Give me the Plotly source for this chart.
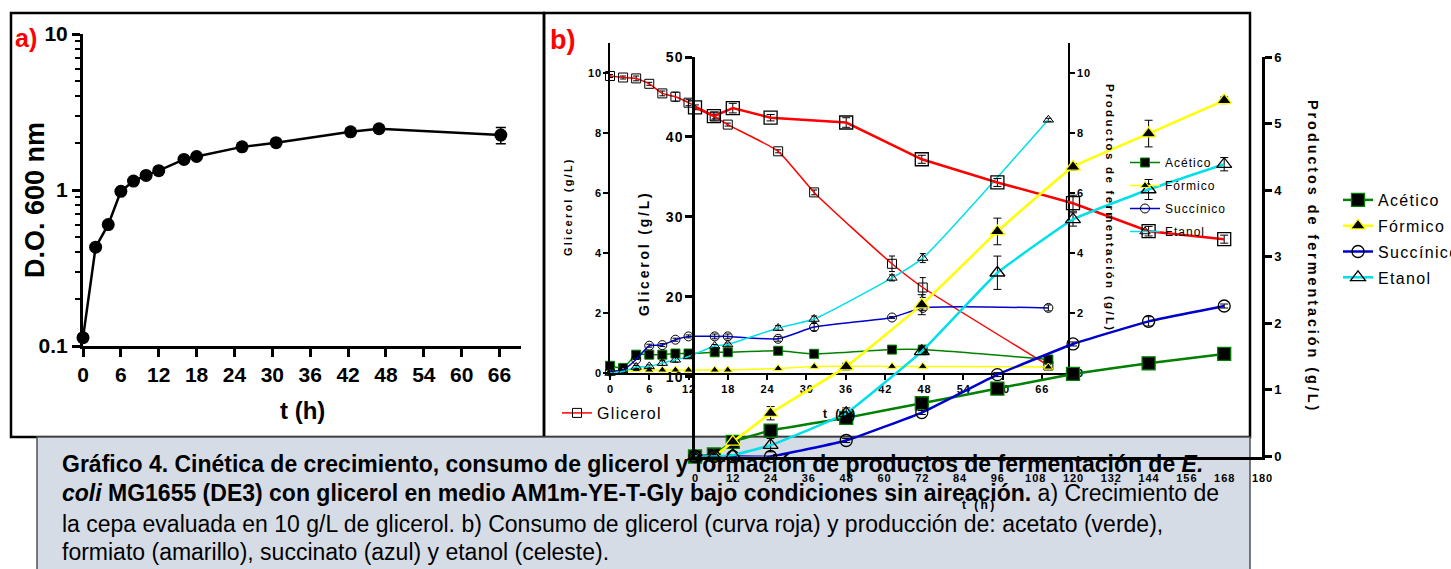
import plotly.graph_objects as go

# ---------------- data ----------------
# Panel a) growth (log scale)
t_growth = [0, 2, 4, 6, 8, 10, 12, 16, 18, 25.2, 30.6, 42.4, 46.9, 66.2]
od600 = [0.113, 0.43, 0.60, 0.98, 1.14, 1.24, 1.33, 1.57, 1.64, 1.89, 2.01, 2.36, 2.47, 2.25]
od600_err = [0, 0, 0, 0, 0, 0, 0, 0, 0, 0, 0, 0, 0, 0.27]
growth_ticks_x = [0, 6, 12, 18, 24, 30, 36, 42, 48, 54, 60, 66]
growth_ticks_y = [0.1, 1, 10]

# Panel b) small chart, 0-70 h
t_small = [0, 2, 4, 6, 8, 10, 12, 16, 18, 25.7, 31.2, 43.1, 47.8, 67]
glic_small = [9.9, 9.85, 9.82, 9.64, 9.32, 9.21, 9.01, 8.55, 8.28, 7.39, 6.02, 3.64, 2.85, 0.25]
glic_small_err = [0.05, 0.05, 0.08, 0.05, 0.08, 0.15, 0.1, 0.08, 0.05, 0.05, 0.08, 0.26, 0.33, 0.05]
acet_small = [0.24, 0.17, 0.61, 0.61, 0.61, 0.65, 0.65, 0.69, 0.69, 0.74, 0.64, 0.78, 0.78, 0.45]
form_small = [0.0, 0.03, 0.12, 0.1, 0.1, 0.1, 0.1, 0.1, 0.1, 0.15, 0.22, 0.22, 0.22, 0.2]
succ_small = [0.05, 0.1, 0.45, 0.91, 0.93, 1.11, 1.22, 1.22, 1.22, 1.14, 1.53, 1.85, 2.17, 2.17]
succ_small_err = [0, 0, 0, 0.05, 0.05, 0.05, 0.05, 0.08, 0.08, 0.08, 0.12, 0.03, 0.08, 0.1]
etoh_small = [0.0, 0.05, 0.2, 0.22, 0.33, 0.44, 0.55, 0.9, 0.95, 1.5, 1.8, 3.17, 3.83, 8.44]
etoh_small_err = [0, 0, 0.05, 0.05, 0.08, 0.08, 0.05, 0.05, 0.05, 0.08, 0.1, 0.1, 0.15, 0.05]
small_ticks_x = [0, 6, 12, 18, 24, 30, 36, 42, 48, 54, 60, 66]
small_ticks_y = [0, 2, 4, 6, 8, 10]

# Panel b) large chart, 0-180 h
t_large = [0, 6, 12, 24, 48, 72, 96, 120, 144, 168]
glic_large = [43.7, 42.6, 43.6, 42.4, 41.8, 37.2, 34.3, 31.7, 28.2, 27.2]
glic_large_err = [0.3, 0.5, 0.6, 0.4, 0.6, 0.5, 0.5, 1.0, 0.6, 0.5]
acet_large = [0, 0.03, 0.22, 0.39, 0.58, 0.80, 1.02, 1.24, 1.40, 1.54]
form_large = [0, 0.0, 0.22, 0.65, 1.35, 2.28, 3.38, 4.35, 4.85, 5.35]
form_large_err = [0, 0, 0, 0.1, 0.05, 0.15, 0.2, 0.05, 0.2, 0.05]
succ_large = [0, 0, 0, 0, 0.24, 0.66, 1.23, 1.69, 2.03, 2.26]
succ_large_err = [0, 0, 0, 0, 0.03, 0.03, 0.03, 0.03, 0.07, 0.03]
etoh_large = [0, 0, 0.02, 0.17, 0.65, 1.58, 2.76, 3.56, 4.01, 4.39]
etoh_large_err = [0, 0, 0, 0.1, 0.08, 0.05, 0.25, 0.1, 0.15, 0.1]
large_ticks_x = [0, 12, 24, 36, 48, 60, 72, 84, 96, 108, 120, 132, 144, 156, 168, 180]
large_ticks_y = [10, 20, 30, 40, 50]
large_ticks_y2 = [0, 1, 2, 3, 4, 5, 6]

series_names = ["Acético", "Fórmico", "Succínico", "Etanol"]
series_colors = ["#008000", "#FFFF00", "#0000CC", "#00E0E8"]

# ---------------- helpers ----------------
W, H = 1451, 569
def px(x):
    return x / W
def py(y):
    return 1 - y / H
def sp(s, gap="\u200a"):
    return gap.join(list(s))
def spw(s, gap="\u2009"):
    return (gap + " " + gap).join(sp(w, gap) for w in s.split(" "))

ARIAL = "Liberation Sans, Arial, sans-serif"

fig = go.Figure()

# ---------- panel a ----------
fig.add_trace(go.Scatter(
    x=t_growth, y=od600, mode="lines+markers", xaxis="x", yaxis="y",
    line=dict(color="black", width=2.5),
    marker=dict(symbol="circle", size=13, color="black"),
    error_y=dict(type="data", array=od600_err, color="black", thickness=1.5, width=5),
    cliponaxis=False, showlegend=False))

# ---------- panel b small chart ----------
def eb(arr, w=3):
    return dict(type="data", array=arr, color="black", thickness=1, width=w)

fig.add_trace(go.Scatter(
    x=t_small, y=glic_small, mode="lines+markers", xaxis="x2", yaxis="y2",
    name=sp("Glicerol"), legend="legend",
    line=dict(color="#FF0000", width=1.5, shape="spline", smoothing=0.5),
    marker=dict(symbol="square-open", size=9, color="black", line=dict(width=1)),
    error_y=eb(glic_small_err), cliponaxis=False))

small_vals = [acet_small, form_small, succ_small, etoh_small]
small_errs = [None, None, succ_small_err, etoh_small_err]
small_syms = ["square", "triangle-up", "circle-open", "triangle-up-open"]
small_sizes = [9, 8, 9, 9]
for i in range(4):
    fig.add_trace(go.Scatter(
        x=t_small, y=small_vals[i], mode="lines+markers", xaxis="x2", yaxis="y3",
        name=sp(series_names[i]), legend="legend2", legendgroup="s%d" % i,
        line=dict(color=series_colors[i], width=1.5, shape="spline", smoothing=0.5),
        marker=dict(symbol=small_syms[i], size=small_sizes[i], color="black", line=dict(width=1)),
        error_y=eb(small_errs[i]) if small_errs[i] else None, cliponaxis=False))

# ---------- panel b large chart ----------
fig.add_trace(go.Scatter(
    x=t_large, y=glic_large, mode="lines+markers", xaxis="x3", yaxis="y4",
    line=dict(color="#FF0000", width=2.5),
    marker=dict(symbol="square-open", size=13, color="black", line=dict(width=1.3)),
    error_y=eb(glic_large_err, 4), cliponaxis=False, showlegend=False))

large_vals = [acet_large, form_large, succ_large, etoh_large]
large_errs = [None, form_large_err, succ_large_err, etoh_large_err]
large_syms = ["square", "triangle-up", "circle-open", "triangle-up-open"]
large_sizes = [13, 13, 12, 13]
for i in range(4):
    fig.add_trace(go.Scatter(
        x=t_large, y=large_vals[i], mode="lines+markers", xaxis="x3", yaxis="y5",
        name=sp(series_names[i]), legend="legend3", legendgroup="l%d" % i,
        line=dict(color=series_colors[i], width=2.5, shape="spline", smoothing=0.3),
        marker=dict(symbol=large_syms[i], size=large_sizes[i], color="black", line=dict(width=1.3)),
        error_y=eb(large_errs[i], 4) if large_errs[i] else None, cliponaxis=False))

# ---------------- axes ----------------
base = dict(showgrid=False, zeroline=False, showline=True, linecolor="black",
            ticks="outside", tickcolor="black")

layout_axes = dict(
    xaxis=dict(base, domain=[px(83), px(521)], range=[0, 69.4], anchor="y",
               linewidth=3, ticklen=8, tickwidth=2.5,
               tickvals=growth_ticks_x, ticktext=[str(v) for v in growth_ticks_x],
               tickfont=dict(family=ARIAL, size=21, color="black", weight="bold")),
    yaxis=dict(base, domain=[py(346), py(34)], type="log", range=[-1, 1], anchor="x",
               linewidth=3, ticklen=8, tickwidth=2.5,
               tickvals=growth_ticks_y, ticktext=["0.1", "1", "10"],
               tickfont=dict(family=ARIAL, size=21, color="black", weight="bold"),
               minor=dict(ticks="outside", ticklen=5, tickwidth=2, tickcolor="black",
                          tickvals=[0.2, 0.3, 0.4, 0.5, 0.6, 0.7, 0.8, 0.9,
                                    2, 3, 4, 5, 6, 7, 8, 9])),
    xaxis2=dict(base, domain=[px(610), px(1068)], range=[0, 70], anchor="y2",
                linewidth=1.5, ticklen=5, tickwidth=1.5,
                tickvals=small_ticks_x, ticktext=[sp(str(v)) for v in small_ticks_x],
                tickfont=dict(family=ARIAL, size=11, color="black", weight="bold")),
    yaxis2=dict(base, domain=[py(373), py(43)], range=[0, 11], anchor="x2",
                linewidth=1.5, ticklen=5, tickwidth=1.5,
                tickvals=small_ticks_y, ticktext=[sp(str(v)) for v in small_ticks_y],
                tickfont=dict(family=ARIAL, size=11, color="black", weight="bold")),
    yaxis3=dict(base, range=[0, 11], anchor="x2", overlaying="y2", side="right",
                linewidth=1.5, ticklen=5, tickwidth=1.5,
                tickvals=small_ticks_y, ticktext=[sp(str(v)) for v in small_ticks_y],
                tickfont=dict(family=ARIAL, size=11, color="black", weight="bold")),
    xaxis3=dict(base, domain=[px(695), px(1262)], range=[0, 180], anchor="y4",
                linewidth=2.5, ticks="", ticklabelstandoff=10,
                tickvals=large_ticks_x, ticktext=[sp(str(v)) for v in large_ticks_x],
                tickfont=dict(family=ARIAL, size=11, color="black", weight="bold")),
    yaxis4=dict(base, domain=[py(456.5), py(57)], range=[0, 50], anchor="x3",
                linewidth=2.5, ticklen=7, tickwidth=2.5,
                tickvals=large_ticks_y, ticktext=[sp(str(v)) for v in large_ticks_y],
                tickfont=dict(family=ARIAL, size=14, color="black", weight="bold")),
    yaxis5=dict(base, range=[0, 6], anchor="x3", overlaying="y4", side="right",
                linewidth=2.5, ticklen=7, tickwidth=2.5,
                tickvals=large_ticks_y2, ticktext=[str(v) for v in large_ticks_y2],
                tickfont=dict(family=ARIAL, size=13, color="black", weight="bold")),
)

# ---------------- shapes ----------------
shapes = [
    dict(type="rect", xref="paper", yref="paper", x0=px(11), x1=px(544), y0=py(437), y1=py(13),
         line=dict(color="black", width=2.5), fillcolor="rgba(0,0,0,0)", layer="below"),
    dict(type="rect", xref="paper", yref="paper", x0=px(544), x1=px(1250), y0=py(437), y1=py(13),
         line=dict(color="black", width=2.5), fillcolor="rgba(0,0,0,0)", layer="below"),
    dict(type="rect", xref="paper", yref="paper", x0=px(37), x1=px(1250), y0=py(572), y1=py(437),
         line=dict(color="#505050", width=1.5), fillcolor="#D6DCE5", layer="below"),
]

# ---------------- annotations ----------------
def ann(text, x, y, size, bold=True, angle=0, color="black", xanchor="center"):
    return dict(text=text, x=px(x), y=py(y), xref="paper", yref="paper", showarrow=False,
                textangle=angle, xanchor=xanchor, yanchor="middle",
                font=dict(family=ARIAL, size=size, color=color, weight="bold" if bold else "normal"))

prod_title = "Productos de fermentación (g/L)"
annotations = [
    ann("a)", 26, 38, 25, color="#FF0000"),
    ann("b)", 562, 40, 27, color="#FF0000"),
    ann("D.O. 600 nm", 35, 200, 27, angle=-90),
    ann("t (h)", 302, 410, 24),
    ann(spw("Glicerol (g/L)"), 568, 208, 11, angle=-90),
    ann(spw("Glicerol (g/L)"), 644, 255, 14, angle=-90),
    ann(spw(prod_title), 1110, 207, 11.5, angle=90),
    ann(spw(prod_title), 1313, 255, 14.5, angle=90),
    ann(spw("t (h)"), 839, 414, 12),
    ann(spw("t (h)"), 978, 505, 12),
    ann("<b>Gráfico 4. Cinética de crecimiento, consumo de glicerol y formación de productos de fermentación de <i>E.</i></b>",
        60, 464, 23, bold=False, xanchor="left"),
    ann("<b><i>coli</i> MG1655 (DE3) con glicerol en medio AM1m-YE-T-Gly bajo condiciones sin aireación.</b> a) Crecimiento de",
        60, 493, 23, bold=False, xanchor="left"),
    ann("la cepa evaluada en 10 g/L de glicerol. b) Consumo de glicerol (curva roja) y producción de: acetato (verde),",
        60, 524, 23, bold=False, xanchor="left"),
    ann("formiato (amarillo), succinato (azul) y etanol (celeste).",
        60, 552, 23, bold=False, xanchor="left"),
]

fig.update_layout(
    width=W, height=H, autosize=False,
    margin=dict(l=0, r=0, t=0, b=0, autoexpand=False),
    paper_bgcolor="white", plot_bgcolor="rgba(0,0,0,0)",
    shapes=shapes, annotations=annotations,
    legend=dict(x=px(557), y=py(396), xanchor="left", yanchor="top",
                bgcolor="rgba(0,0,0,0)", font=dict(family=ARIAL, size=16, color="black")),
    legend2=dict(x=px(1125), y=py(148), xanchor="left", yanchor="top",
                 bgcolor="rgba(0,0,0,0)", traceorder="grouped", tracegroupgap=4,
                 font=dict(family=ARIAL, size=12, color="black")),
    legend3=dict(x=px(1338), y=py(183), xanchor="left", yanchor="top",
                 bgcolor="rgba(0,0,0,0)", traceorder="grouped", tracegroupgap=2,
                 font=dict(family=ARIAL, size=16, color="black")),
    **layout_axes,
)

fig.write_html("out.html")
